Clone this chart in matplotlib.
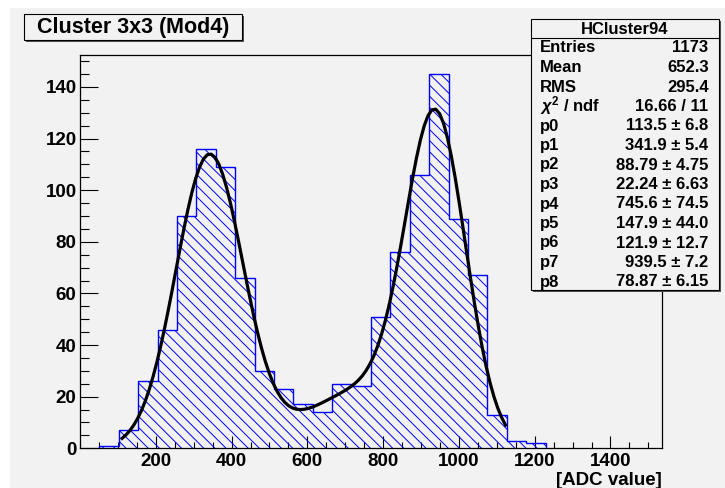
import matplotlib
matplotlib.use('Agg')
import matplotlib.pyplot as plt
import numpy as np
from matplotlib.patches import Rectangle
from matplotlib.ticker import MultipleLocator, FixedLocator

# Data section
# histogram: 30 bins of 51.2 over 0..1536, only the non-empty ones kept (bins 1..23)
bin_width = 51.2
first_bin = 1
counts = [1, 7, 26, 46, 90, 116, 109, 66, 30, 23, 17, 14, 25, 24,
          51, 76, 106, 145, 89, 67, 13, 3, 2]
x_range = [0, 1536]

# triple gaussian fit, parameters from the stats box
fit_pars = [113.5, 341.9, 88.79, 22.24, 745.6, 147.9, 121.9, 939.5, 78.87]
fit_range = [111, 1123]

stat_title = 'HCluster94'
stat_names = ['Entries', 'Mean', 'RMS', r'$\chi^2$ / ndf',
              'p0', 'p1', 'p2', 'p3', 'p4', 'p5', 'p6', 'p7', 'p8']
stat_values = ['1173', '652.3', '295.4', '16.66 / 11',
               '113.5 \u00b1 6.8', '341.9 \u00b1 5.4', '88.79 \u00b1 4.75',
               '22.24 \u00b1 6.63', '745.6 \u00b1 74.5', '147.9 \u00b1 44.0',
               '121.9 \u00b1 12.7', '939.5 \u00b1 7.2', '78.87 \u00b1 6.15']

title = 'Cluster 3x3 (Mod4)'
xlabel = '[ADC value]'

plt.rcParams['font.family'] = ['Liberation Sans', 'DejaVu Sans']
plt.rcParams['font.weight'] = 'bold'
plt.rcParams['hatch.linewidth'] = 0.7
plt.rcParams['hatch.color'] = 'blue'
plt.rcParams['mathtext.fontset'] = 'custom'
plt.rcParams['mathtext.rm'] = 'Liberation Sans:bold'
plt.rcParams['mathtext.it'] = 'Liberation Sans:italic:bold'

W, H = 725, 488
bg = '#f2f2f2'

def fx(px):
    return px / W

def fy(py):
    return 1 - py / H

fig = plt.figure(figsize=(7.25, 4.88), dpi=100, facecolor='white')
fig.add_artist(Rectangle((fx(10), 0), fx(715), 1 - 8 / H, transform=fig.transFigure,
                         facecolor=bg, edgecolor='none', zorder=0))

ax = fig.add_axes([fx(80), fy(448.3), fx(662 - 80), (448.3 - 55.3) / H])
ax.set_facecolor(bg)

edges = np.arange(first_bin, first_bin + len(counts) + 1) * bin_width
ax.bar(edges[:-1], counts, width=bin_width, align='edge', fill=False,
       hatch='\\\\\\', edgecolor='blue', linewidth=0, zorder=2)
ax.stairs(counts, edges, color='blue', linewidth=1.0, zorder=3)

xf = np.linspace(fit_range[0], fit_range[1], 100)
yf = np.zeros_like(xf)
for k in range(3):
    a, m, s = fit_pars[3 * k:3 * k + 3]
    yf += a * np.exp(-0.5 * ((xf - m) / s) ** 2)
ax.plot(xf, yf, color='black', linewidth=2.3, zorder=4)

ax.set_xlim(x_range)
ax.set_ylim(0, 1.05 * max(counts))

ax.xaxis.set_major_locator(FixedLocator(np.arange(200, 1401, 200)))
ax.xaxis.set_minor_locator(MultipleLocator(50))
ax.yaxis.set_major_locator(MultipleLocator(20))
ax.yaxis.set_minor_locator(MultipleLocator(5))
ax.xaxis.set_ticks_position('bottom')
ax.yaxis.set_ticks_position('left')
ax.tick_params(axis='x', which='major', direction='in', length=8.6, width=0.8,
               pad=3.5, labelsize=13.5)
ax.tick_params(axis='x', which='minor', direction='in', length=4.3, width=0.8)
ax.tick_params(axis='y', which='major', direction='in', length=12.6, width=0.8,
               pad=2.5, labelsize=13.5)
ax.tick_params(axis='y', which='minor', direction='in', length=6.3, width=0.8)
for sp in ax.spines.values():
    sp.set_linewidth(0.9)

fig.text(fx(661.7), fy(485), xlabel, ha='right', va='baseline', fontsize=13.5,
         fontweight='bold')

# boxes with a dark shadow, like ROOT panes
def box(x0, y0, x1, y1):
    fig.add_artist(Rectangle((fx(x0 + 2), fy(y1 + 2)), fx(x1 - x0), (y1 - y0) / H,
                             transform=fig.transFigure, facecolor='#505050',
                             edgecolor='none', zorder=5))
    fig.add_artist(Rectangle((fx(x0), fy(y1)), fx(x1 - x0), (y1 - y0) / H,
                             transform=fig.transFigure, facecolor=bg,
                             edgecolor='black', linewidth=0.8, zorder=6))

box(23.5, 13.5, 242, 40)
fig.text(fx(133), fy(32.7), title, ha='center', va='baseline', fontsize=15.5,
         fontweight='bold', zorder=7)

# stats box
box(530.7, 19, 719, 290)
fig.add_artist(plt.Line2D([fx(530.7), fx(719)], [fy(38), fy(38)],
                          transform=fig.transFigure, color='black', linewidth=0.8,
                          zorder=7))
fig.text(fx(625), fy(34), stat_title, ha='center', va='baseline', fontsize=12,
         fontweight='bold', zorder=7)
for i, (n, v) in enumerate(zip(stat_names, stat_values)):
    yy = fy(52.5 + 19.5 * i)
    fig.text(fx(540), yy, n, ha='left', va='baseline', fontsize=12,
             fontweight='bold', zorder=7)
    fig.text(fx(708.5), yy, v, ha='right', va='baseline', fontsize=12,
             fontweight='bold', zorder=7)

fig.savefig('out.png', dpi=100, facecolor='white')
